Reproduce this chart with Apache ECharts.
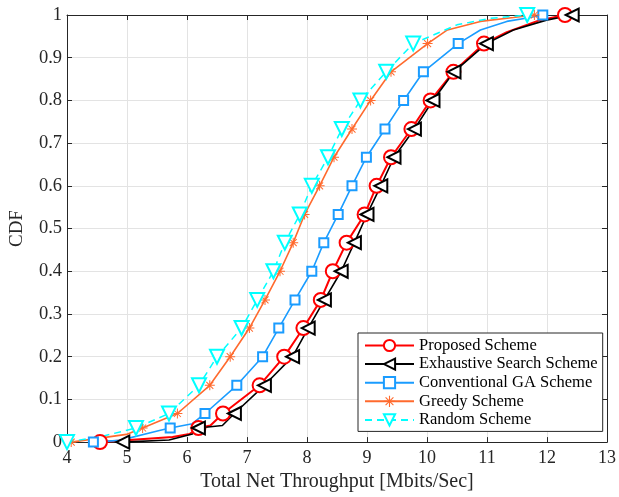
<!DOCTYPE html>
<html>
<head>
<meta charset="utf-8">
<script src="https://cdn.jsdelivr.net/npm/echarts@6/dist/echarts.min.js"></script>
<style>
  html, body { margin: 0; padding: 0; background: #fff; }
  #main { width: 619px; height: 497px; }
</style>
</head>
<body>
<div id="main"></div>
<script type="text/javascript">
// CDF levels where the markers sit
var cdfLevels = [0, 0.033, 0.067, 0.133, 0.2, 0.267, 0.333, 0.4, 0.467, 0.533, 0.6, 0.667, 0.733, 0.8, 0.867, 0.933, 1];

// throughput (Mbits/Sec) at each marker level
var proposedX   = [4.55, 6.19, 6.60, 7.21, 7.62, 7.94, 8.23, 8.43, 8.66, 8.96, 9.16, 9.40, 9.74, 10.06, 10.44, 10.95, 12.30];
var exhaustiveX = [4.93, 6.19, 6.79, 7.29, 7.76, 8.02, 8.29, 8.57, 8.79, 9.00, 9.23, 9.45, 9.79, 10.10, 10.45, 10.99, 12.42];
var gaX         = [4.44, 5.72, 6.30, 6.83, 7.26, 7.53, 7.80, 8.08, 8.28, 8.52, 8.75, 8.99, 9.30, 9.61, 9.94, 10.52, 11.93];
var greedyX     = [4.07, 5.26, 5.84, 6.38, 6.72, 7.04, 7.30, 7.55, 7.77, 7.96, 8.21, 8.45, 8.75, 9.06, 9.40, 10.01, 11.79];
var randomX     = [4.00, 5.15, 5.70, 6.20, 6.50, 6.91, 7.17, 7.44, 7.63, 7.88, 8.08, 8.35, 8.58, 8.89, 9.32, 9.77, 11.67];

// extra line points between markers (no marker drawn)
var proposedExtra   = [[5.76, 0.012], [6.04, 0.019], [6.39, 0.039], [11.33, 0.96], [11.88, 0.988]];
var exhaustiveExtra = [[5.70, 0.005], [6.09, 0.019], [6.59, 0.039], [11.44, 0.965], [11.99, 0.988]];
var gaExtra         = [[4.88, 0.004], [5.54, 0.027], [6.09, 0.043], [10.89, 0.965], [11.33, 0.985], [11.72, 0.994]];
var greedyExtra     = [[4.99, 0.018], [10.34, 0.965], [10.89, 0.985], [11.44, 0.994]];
var randomExtra     = [[4.60, 0.014], [10.50, 0.977], [11.05, 0.992]];

var names = ['Proposed Scheme', 'Exhaustive Search Scheme', 'Conventional GA Scheme', 'Greedy Scheme', 'Random Scheme'];

var serif = 'Liberation Serif';
// 8-armed asterisk like matlab's '*'
var asterisk = 'path://M-1,-10L1,-10L1,10L-1,10Z M-10,-1L10,-1L10,1L-10,1Z M-7.7,-6.3L-6.3,-7.7L7.7,6.3L6.3,7.7Z M-7.7,6.3L6.3,-7.7L7.7,-6.3L-6.3,7.7Z';

function buildData(xs, extra) {
    var pts = [];
    for (var i = 0; i < xs.length; i++) {
        pts.push({ value: [xs[i], cdfLevels[i]] });
    }
    for (var j = 0; j < extra.length; j++) {
        pts.push({ value: extra[j], symbol: 'none' });
    }
    pts.sort(function (a, b) {
        return a.value[1] - b.value[1] || a.value[0] - b.value[0];
    });
    return pts;
}

function makeSeries(name, xs, extra, color, width, symbol, size, rotate, bw, dashed) {
    return {
        name: name,
        type: 'line',
        data: buildData(xs, extra),
        showAllSymbol: true,
        symbol: symbol,
        symbolSize: size,
        symbolRotate: rotate,
        lineStyle: { color: color, width: width, type: dashed ? [7, 5] : 'solid' },
        itemStyle: { color: color, borderColor: color, borderWidth: bw },
        emphasis: { disabled: true },
        animation: false
    };
}

var myChart = echarts.init(document.getElementById('main'));

var option = {
    backgroundColor: '#fff',
    grid: { left: 67, right: 8, top: 15, bottom: 52 },
    legend: {
        data: names,
        orient: 'vertical',
        left: 358,
        top: 333,
        padding: [4, 5, 3, 6],
        itemGap: 1.6,
        itemWidth: 49,
        itemHeight: 14,
        backgroundColor: '#fff',
        borderColor: '#262626',
        borderWidth: 1,
        borderRadius: 0,
        textStyle: { fontFamily: serif, fontSize: 16.5, color: '#000' }
    },
    xAxis: [
        {
            type: 'value', min: 4, max: 13, interval: 1,
            name: 'Total Net Throughput [Mbits/Sec]',
            nameLocation: 'middle', nameGap: 29,
            nameTextStyle: { fontFamily: serif, fontSize: 20, color: '#262626' },
            axisLine: { onZero: false, lineStyle: { color: '#262626', width: 1 } },
            axisTick: { inside: true, length: 5, lineStyle: { color: '#262626' } },
            axisLabel: { fontFamily: serif, fontSize: 18, color: '#262626', margin: 7 },
            splitLine: { lineStyle: { color: '#e3e3e3', width: 1 } }
        },
        {
            type: 'value', min: 4, max: 13, interval: 1, position: 'top',
            axisLine: { onZero: false, lineStyle: { color: '#262626', width: 1 } },
            axisTick: { inside: true, length: 5, lineStyle: { color: '#262626' } },
            axisLabel: { show: false },
            splitLine: { show: false }
        }
    ],
    yAxis: [
        {
            type: 'value', min: 0, max: 1, interval: 0.1,
            name: 'CDF',
            nameLocation: 'middle', nameGap: 40, nameRotate: 90,
            nameTextStyle: { fontFamily: serif, fontSize: 19, color: '#262626' },
            axisLine: { show: true, onZero: false, lineStyle: { color: '#262626', width: 1 } },
            axisTick: { show: true, inside: true, length: 5, lineStyle: { color: '#262626' } },
            axisLabel: { fontFamily: serif, fontSize: 18.5, color: '#262626', margin: 5 },
            splitLine: { lineStyle: { color: '#e3e3e3', width: 1 } }
        },
        {
            type: 'value', min: 0, max: 1, interval: 0.1, position: 'right',
            axisLine: { show: true, onZero: false, lineStyle: { color: '#262626', width: 1 } },
            axisTick: { show: true, inside: true, length: 5, lineStyle: { color: '#262626' } },
            axisLabel: { show: false },
            splitLine: { show: false }
        }
    ],
    series: [
        makeSeries(names[0], proposedX, proposedExtra, '#ff0000', 2, 'emptyCircle', 14, 0, 2.5, false),
        makeSeries(names[1], exhaustiveX, exhaustiveExtra, '#000000', 1.6, 'emptyTriangle', 13, 90, 2, false),
        makeSeries(names[2], gaX, gaExtra, '#1a9cff', 1.6, 'emptyRect', 9, 0, 2, false),
        makeSeries(names[3], greedyX, greedyExtra, '#ff6a2e', 1.6, asterisk, 10, 0, 0, false),
        makeSeries(names[4], randomX, randomExtra, '#00ffff', 1.5, 'emptyTriangle', 14, 180, 2, true)
    ]
};

myChart.setOption(option);
</script>
</body>
</html>
